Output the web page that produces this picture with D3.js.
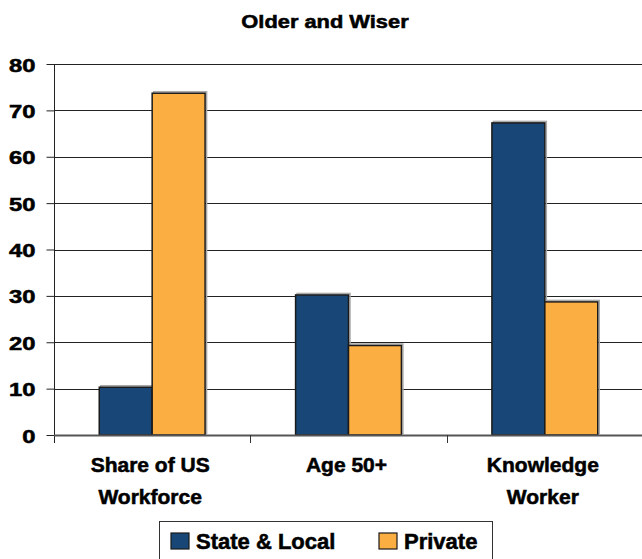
<!DOCTYPE html>
<html>
<head>
<meta charset="utf-8">
<script src="https://cdn.jsdelivr.net/npm/d3@7"></script>
<style>
  html, body { margin: 0; padding: 0; background: #fff; }
  svg { display: block; font-family: "Liberation Sans", Arial, sans-serif; font-weight: bold; }
  svg text { stroke: #000; stroke-width: 0.55px; paint-order: stroke fill; }
</style>
</head>
<body>
<svg id="chart" width="642" height="559"></svg>
<script>
// Chart data
const title = "Older and Wiser";
const categories = [["Share of US", "Workforce"], ["Age 50+"], ["Knowledge", "Worker"]];
const seriesNames = ["State & Local", "Private"];
const stateLocal = [10.3, 30.2, 67.3];
const privateSector = [73.7, 19.3, 28.7];
const yTicks = [0, 10, 20, 30, 40, 50, 60, 70, 80];
const colors = ["#174677", "#FBAF43"];

const svg = d3.select("#chart");
const margin = { left: 54, right: -1, top: 64, bottom: 124 };
const W = 642, H = 559;
const plotBottom = H - margin.bottom; // 435

const catKeys = categories.map(c => c.join(" "));
const x0 = d3.scaleBand().domain(catKeys).range([margin.left, W - margin.right]).paddingInner(0).paddingOuter(0);
const x1 = d3.scaleBand().domain(seriesNames).range([0, x0.bandwidth()]).paddingInner(0).paddingOuter(0.855);
const y = d3.scaleLinear().domain([0, 80]).range([plotBottom, margin.top]);

// Title
svg.append("text")
  .attr("transform", `translate(${W / 2 + 4}, 28) scale(1.15,1)`)
  .attr("text-anchor", "middle")
  .attr("font-size", 19)
  .attr("fill", "#000")
  .text(title);

// Horizontal gridlines
svg.append("g").selectAll("line").data(yTicks.filter(t => t > 0)).join("line")
  .attr("x1", margin.left).attr("x2", W)
  .attr("y1", d => Math.round(y(d)) + 0.5).attr("y2", d => Math.round(y(d)) + 0.5)
  .attr("stroke", "#222").attr("stroke-width", 1);

// Y axis
const yAxis = svg.append("g")
  .attr("transform", `translate(${margin.left + 0.5},0)`)
  .call(d3.axisLeft(y).tickValues(yTicks).tickSize(8).tickFormat(d3.format("d")));
yAxis.select(".domain").attr("stroke", "#222").attr("d", `M0,${margin.top}V${plotBottom + 8}`);
yAxis.selectAll(".tick line").attr("stroke", "#222");
yAxis.selectAll(".tick text")
  .attr("font-family", "'Liberation Sans', Arial, sans-serif")
  .attr("font-weight", "bold")
  .attr("font-size", 19)
  .attr("fill", "#000")
  .attr("x", null).attr("dy", null)
  .attr("transform", "translate(-19,7) scale(1.25,1)");

// Bars
const groups = svg.append("g").selectAll("g").data(catKeys).join("g")
  .attr("transform", d => `translate(${x0(d)},0)`);

const barData = (d, i) => seriesNames.map((s, j) => ({ s, j, v: j === 0 ? stateLocal[i] : privateSector[i] }));

groups.each(function (d, i) {
  const g = d3.select(this);
  const bars = barData(d, i);
  // soft shadow
  g.selectAll("rect.shadow").data(bars).join("rect").attr("class", "shadow")
    .attr("x", b => x1(b.s) + 1.5).attr("y", b => y(b.v) - 1.5)
    .attr("width", x1.bandwidth()).attr("height", b => plotBottom - y(b.v))
    .attr("fill", "none").attr("stroke", "#aaa").attr("stroke-width", 1.5);
  g.selectAll("rect.bar").data(bars).join("rect").attr("class", "bar")
    .attr("x", b => x1(b.s)).attr("y", b => y(b.v))
    .attr("width", x1.bandwidth()).attr("height", b => plotBottom - y(b.v))
    .attr("fill", b => colors[b.j]).attr("stroke", "#1a1a1a").attr("stroke-width", 1.5);
});

// X axis line and ticks
svg.append("line")
  .attr("x1", margin.left).attr("x2", W)
  .attr("y1", plotBottom + 0.5).attr("y2", plotBottom + 0.5)
  .attr("stroke", "#555").attr("stroke-width", 2);
svg.append("g").selectAll("line").data(catKeys.slice(1)).join("line")
  .attr("x1", d => Math.round(x0(d)) + 0.5).attr("x2", d => Math.round(x0(d)) + 0.5)
  .attr("y1", plotBottom).attr("y2", plotBottom + 8)
  .attr("stroke", "#333").attr("stroke-width", 1);

// Category labels
svg.append("g").selectAll("text").data(categories).join("text")
  .attr("text-anchor", "middle")
  .attr("font-size", 21)
  .attr("fill", "#000")
  .attr("x", (d, i) => x0(catKeys[i]) + x0.bandwidth() / 2 - 2)
  .attr("y", 472)
  .each(function (lines) {
    const t = d3.select(this);
    lines.forEach((ln, k) => {
      t.append("tspan").attr("x", t.attr("x")).attr("dy", k === 0 ? 0 : 32).text(ln);
    });
  });

// Legend
const legend = svg.append("g");
legend.append("rect")
  .attr("x", 159.5).attr("y", 521.5).attr("width", 333).attr("height", 50)
  .attr("fill", "#fff").attr("stroke", "#333").attr("stroke-width", 1);
const legendX = [171, 379];
seriesNames.forEach((s, j) => {
  legend.append("rect")
    .attr("x", legendX[j]).attr("y", 533).attr("width", 18).attr("height", 16)
    .attr("fill", colors[j]).attr("stroke", "#1a1a1a").attr("stroke-width", 1.2);
  legend.append("text")
    .attr("x", legendX[j] + 25).attr("y", 549)
    .attr("font-size", 22).attr("fill", "#000")
    .text(s);
});
</script>
</body>
</html>
